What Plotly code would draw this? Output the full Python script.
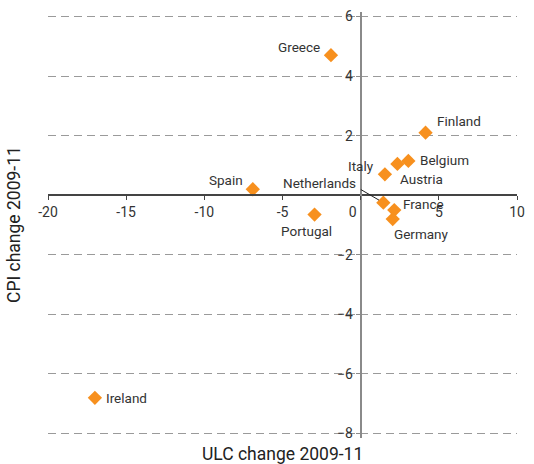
import plotly.graph_objects as go

countries = ["Greece", "Finland", "Belgium", "Austria", "Italy", "Spain",
             "Portugal", "Netherlands", "France", "Germany", "Ireland"]
ulc_change = [-1.9, 4.15, 3.05, 2.35, 1.55, -6.9, -2.95, 1.45, 2.15, 2.05, -17.0]
cpi_change = [4.7, 2.1, 1.15, 1.05, 0.7, 0.2, -0.65, -0.25, -0.5, -0.8, -6.8]

x_ticks = [-20, -15, -10, -5, 0, 5, 10]
x_ticktext = ["-20", "-15", "-10", "-5", "0\u2007\u2007", "5", "10"]
y_ticks = [-8, -6, -4, -2, 2, 4, 6]

FONT = "Roboto, 'DejaVu Sans', sans-serif"
ORANGE = "#F7901E"
TXT = "#333333"

# label placement (xanchor, xshift px, yshift px)
label_pos = {
    "Greece": ("right", -9, 8),
    "Finland": ("left", 9, 12),
    "Belgium": ("left", 10, 1),
    "Austria": ("left", 1, -15),
    "Italy": ("right", -9, 8),
    "Spain": ("right", -8, 9),
    "Portugal": ("center", -8, -16),
    "Netherlands": ("right", -25, 20),
    "France": ("left", 7, 6),
    "Germany": ("left", -1, -15),
    "Ireland": ("left", 9, 0),
}

fig = go.Figure()
fig.add_trace(go.Scatter(
    x=ulc_change, y=cpi_change, mode="markers",
    marker=dict(symbol="diamond", size=11, color=ORANGE, line=dict(width=0)),
    hoverinfo="text", text=countries, showlegend=False, cliponaxis=False,
))

annotations = []
for c, xv, yv in zip(countries, ulc_change, cpi_change):
    anc, dx, dy = label_pos[c]
    annotations.append(dict(
        x=xv, y=yv, xref="x", yref="y", text=c, showarrow=False,
        xanchor=anc, yanchor="middle", xshift=dx, yshift=dy,
        font=dict(family=FONT, size=13.5, color=TXT),
    ))

# leader line for Netherlands
ni = countries.index("Netherlands")
annotations.append(dict(
    x=ulc_change[ni], y=cpi_change[ni], xref="x", yref="y", text="",
    showarrow=True, arrowhead=0, arrowwidth=1, arrowcolor="#222222",
    ax=-24, ay=-14, standoff=5,
))

annotations.append(dict(
    x=0.5, y=0, xref="paper", yref="paper", text="ULC change 2009-11",
    showarrow=False, xanchor="center", yanchor="middle", yshift=-16,
    font=dict(family=FONT, size=17.5, color="#222222"),
))
annotations.append(dict(
    x=0, y=0.5, xref="paper", yref="paper", text="CPI change 2009-11",
    showarrow=False, xanchor="center", yanchor="middle", xshift=-34,
    textangle=-90, font=dict(family=FONT, size=17.5, color="#222222"),
))

xr = [-20, 10]
yr = [-8.15, 6.15]

fig.update_layout(
    width=534, height=464,
    margin=dict(l=48, r=17, t=12, b=26, autoexpand=False),
    paper_bgcolor="white", plot_bgcolor="white",
    annotations=annotations,
    xaxis=dict(
        range=xr, tickvals=x_ticks, ticktext=x_ticktext,
        showgrid=False, zeroline=False, automargin=False,
        showline=True, linecolor="#444444", linewidth=1.5,
        anchor="free", position=(0 - yr[0]) / (yr[1] - yr[0]),
        ticks="outside", ticklen=4, tickcolor="#444444",
        tickfont=dict(family=FONT, size=14, color=TXT),
    ),
    yaxis=dict(
        range=yr, tickvals=y_ticks,
        showgrid=True, gridcolor="#9a9a9a", griddash="8px,5px", gridwidth=1,
        zeroline=False, automargin=False,
        showline=True, linecolor="#8a8a8a", linewidth=2,
        anchor="free", position=(0 - xr[0]) / (xr[1] - xr[0]),
        ticks="outside", ticklen=4, tickcolor="#8a8a8a",
        tickfont=dict(family=FONT, size=14, color=TXT),
    ),
)

fig.write_html(
    "out.html",
    config={"displayModeBar": False},
    post_script="document.body.style.margin='0';document.body.style.overflow='hidden';",
)
